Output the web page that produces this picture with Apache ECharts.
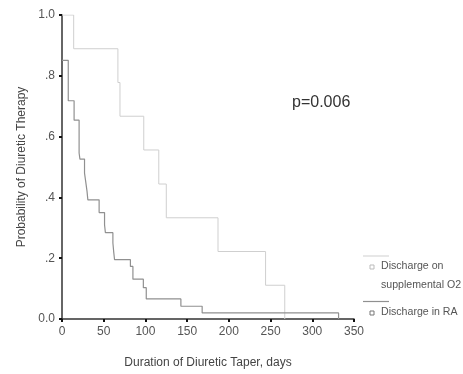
<!DOCTYPE html>
<html>
<head>
<meta charset="utf-8">
<script src="https://cdn.jsdelivr.net/npm/echarts@6/dist/echarts.min.js"></script>
<style>
  html, body { margin: 0; padding: 0; background: #fff; }
  #chart { width: 463px; height: 374px; }
</style>
</head>
<body>
<div id="chart"></div>
<script>
// Kaplan-Meier steps: day of each drop and survival after it
const o2Days = [0, 14, 67, 69.5, 98, 116, 125, 187, 244, 267];
const o2Surv = [1.0, 0.889, 0.778, 0.667, 0.556, 0.444, 0.333, 0.222, 0.111, 0.0];

const raDays = [0, 7.5, 14.5, 20.5, 21.5, 27, 28.5, 30, 31, 44.5, 51, 52, 61, 62, 63, 82, 85, 97.5, 101, 142.5, 168, 331.5];
const raSurv = [0.851, 0.718, 0.654, 0.546, 0.526, 0.48, 0.45, 0.42, 0.392, 0.35, 0.31, 0.284, 0.25, 0.22, 0.195, 0.173, 0.131, 0.103, 0.066, 0.042, 0.02, 0.0];

const xTicks = [0, 50, 100, 150, 200, 250, 300, 350];
const yTickLabels = ["0.0", ".2", ".4", ".6", ".8", "1.0"];

const seriesNames = ["Discharge on supplemental O2", "Discharge in RA"];
const pValueText = "p=0.006";

const FONT = "Liberation Sans, Arial, sans-serif";

const chart = echarts.init(document.getElementById("chart"), null, { renderer: "canvas" });

const toPairs = (xs, ys) => xs.map((x, i) => [x, ys[i]]);

const option = {
  animation: false,
  backgroundColor: "#fff",
  textStyle: { fontFamily: FONT },
  grid: { left: 62, right: 109, top: 15, bottom: 55 },
  xAxis: {
    type: "value",
    min: xTicks[0],
    max: xTicks[xTicks.length - 1],
    interval: 50,
    name: "Duration of Diuretic Taper, days",
    nameLocation: "middle",
    nameGap: 38,
    nameTextStyle: { fontFamily: FONT, fontSize: 12, color: "#444" },
    axisLine: { show: true, lineStyle: { color: "#333", width: 1.5 } },
    axisTick: { show: true, length: 3, lineStyle: { color: "#111", width: 2 } },
    axisLabel: { fontFamily: FONT, fontSize: 12, color: "#555", margin: 7 },
    splitLine: { show: false }
  },
  yAxis: {
    type: "value",
    min: 0,
    max: 1,
    interval: 0.2,
    name: "Probability of Diuretic Therapy",
    nameLocation: "middle",
    nameGap: 34,
    nameTextStyle: { fontFamily: FONT, fontSize: 12, color: "#444" },
    axisLine: { show: true, lineStyle: { color: "#333", width: 1.5 } },
    axisTick: { show: true, length: 3, lineStyle: { color: "#111", width: 2 } },
    axisLabel: {
      fontFamily: FONT,
      fontSize: 12,
      color: "#555",
      margin: 7,
      formatter: (v) => yTickLabels[Math.round(v * 5)]
    },
    splitLine: { show: false }
  },
  series: [
    {
      name: seriesNames[0],
      type: "line",
      step: "end",
      symbol: "none",
      data: toPairs(o2Days, o2Surv),
      lineStyle: { color: "#cfcfcf", width: 1 },
      z: 3
    },
    {
      name: seriesNames[1],
      type: "line",
      step: "end",
      symbol: "none",
      data: toPairs(raDays, raSurv),
      lineStyle: { color: "#909090", width: 1.2 },
      z: 4
    }
  ],
  graphic: [
    {
      type: "text",
      left: 292,
      top: 95,
      style: { text: pValueText, font: "16px " + FONT, fill: "#333" }
    },
    // legend (SPSS-style: line above, small square, label)
    {
      type: "line",
      shape: { x1: 363, y1: 256, x2: 389, y2: 256 },
      style: { stroke: "#cfcfcf", lineWidth: 1 }
    },
    {
      type: "rect",
      shape: { x: 370, y: 265, width: 4, height: 4 },
      style: { fill: "#fff", stroke: "#bbb", lineWidth: 1 }
    },
    {
      type: "text",
      left: 381,
      top: 261,
      style: { text: "Discharge on", font: "10.6px " + FONT, fill: "#555" }
    },
    {
      type: "text",
      left: 381,
      top: 280,
      style: { text: "supplemental O2", font: "10.6px " + FONT, fill: "#555" }
    },
    {
      type: "line",
      shape: { x1: 363, y1: 301.5, x2: 389, y2: 301.5 },
      style: { stroke: "#909090", lineWidth: 1.2 }
    },
    {
      type: "rect",
      shape: { x: 370, y: 311, width: 4, height: 4 },
      style: { fill: "#fff", stroke: "#777", lineWidth: 1 }
    },
    {
      type: "text",
      left: 381,
      top: 307,
      style: { text: "Discharge in RA", font: "10.6px " + FONT, fill: "#555" }
    }
  ]
};

chart.setOption(option);
</script>
</body>
</html>
